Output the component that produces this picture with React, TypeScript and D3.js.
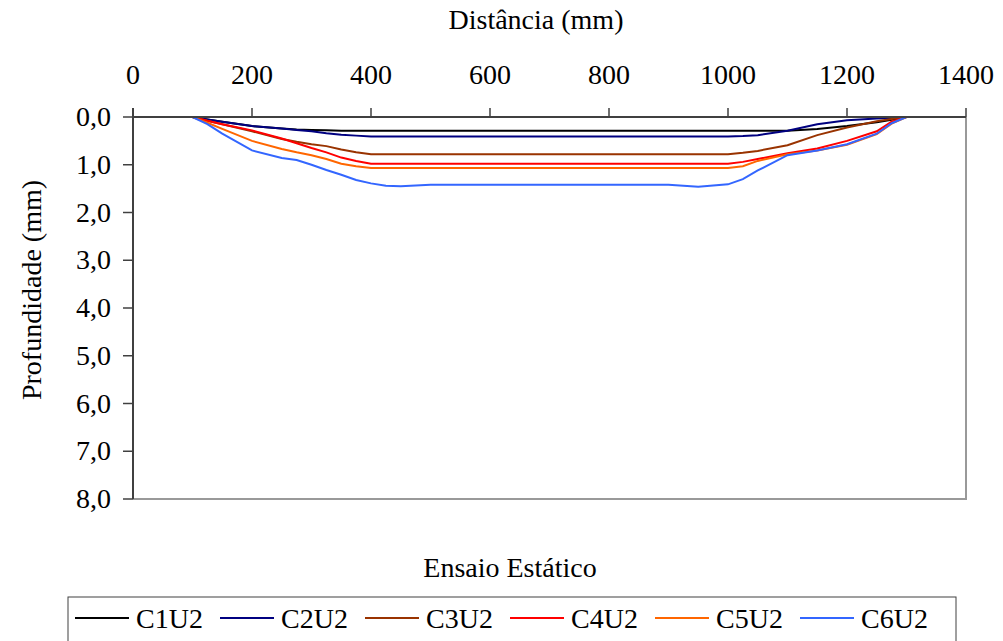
import React, { useRef, useEffect } from "react";
import * as d3 from "d3";

// distancia (mm), shared by every series
const distances = [0, 50, 100, 125, 150, 200, 250, 275, 300, 325, 350, 375, 400, 425, 450, 500, 600, 700, 800, 900, 950, 1000, 1025, 1050, 1100, 1150, 1200, 1250, 1275, 1300, 1350, 1400];

const c1u2 = [0, 0, 0, 0.05, 0.1, 0.19, 0.24, 0.26, 0.27, 0.28, 0.29, 0.29, 0.29, 0.29, 0.29, 0.29, 0.29, 0.29, 0.29, 0.29, 0.29, 0.29, 0.29, 0.29, 0.29, 0.25, 0.19, 0.11, 0.06, 0, 0, 0];
const c2u2 = [0, 0, 0, 0.05, 0.1, 0.19, 0.24, 0.27, 0.3, 0.34, 0.37, 0.39, 0.41, 0.41, 0.41, 0.41, 0.41, 0.41, 0.41, 0.41, 0.41, 0.41, 0.4, 0.38, 0.29, 0.15, 0.07, 0.03, 0.02, 0, 0, 0];
const c3u2 = [0, 0, 0, 0.08, 0.15, 0.3, 0.46, 0.52, 0.57, 0.61, 0.68, 0.74, 0.78, 0.78, 0.78, 0.78, 0.78, 0.78, 0.78, 0.78, 0.78, 0.78, 0.75, 0.71, 0.59, 0.38, 0.22, 0.09, 0.04, 0, 0, 0];
const c4u2 = [0, 0, 0, 0.08, 0.15, 0.28, 0.45, 0.55, 0.65, 0.74, 0.85, 0.92, 0.98, 0.98, 0.98, 0.98, 0.98, 0.98, 0.98, 0.98, 0.98, 0.98, 0.94, 0.88, 0.76, 0.66, 0.5, 0.3, 0.1, 0, 0, 0];
const c5u2 = [0, 0, 0, 0.12, 0.25, 0.5, 0.67, 0.74, 0.8, 0.88, 0.98, 1.03, 1.07, 1.07, 1.07, 1.07, 1.07, 1.07, 1.07, 1.07, 1.07, 1.07, 1.03, 0.92, 0.78, 0.7, 0.58, 0.36, 0.14, 0, 0, 0];
const c6u2 = [0, 0, 0, 0.15, 0.35, 0.7, 0.86, 0.9, 1.0, 1.11, 1.21, 1.32, 1.39, 1.44, 1.45, 1.42, 1.42, 1.42, 1.42, 1.42, 1.46, 1.41, 1.3, 1.12, 0.8, 0.7, 0.57, 0.35, 0.13, 0, 0, 0];

const seriesNames = ["C1U2", "C2U2", "C3U2", "C4U2", "C5U2", "C6U2"];
const seriesValues = [c1u2, c2u2, c3u2, c4u2, c5u2, c6u2];
const seriesColors = ["#000000", "#000080", "#993300", "#ff0000", "#ff6600", "#3366ff"];

const xTicks = [0, 200, 400, 600, 800, 1000, 1200, 1400];
const yTicks = [0, 1, 2, 3, 4, 5, 6, 7, 8];

export default function App() {
    const svgRef = useRef<SVGSVGElement>(null);

    useEffect(() => {
        const width = 1003;
        const height = 641;
        const fs = 28;

        const svg = d3.select(svgRef.current);
        svg.selectAll("*").remove();
        svg.attr("width", width).attr("height", height);

        const x = d3.scaleLinear([0, 1400], [133, 966]);
        const y = d3.scaleLinear([0, 8], [117, 499]);

        // plot area border (right + bottom in gray)
        svg.append("path")
            .attr("d", `M${x(0)},${y(8)}H${x(1400)}V${y(0)}`)
            .attr("fill", "none")
            .attr("stroke", "#999")
            .attr("stroke-width", 2);

        // lines
        const line = d3.line<number>()
            .x((d, i) => x(distances[i]))
            .y(d => y(d));

        svg.append("g")
            .selectAll("path")
            .data(seriesValues)
            .enter()
            .append("path")
            .attr("d", d => line(d))
            .attr("fill", "none")
            .attr("stroke", (d, i) => seriesColors[i])
            .attr("stroke-width", 2);

        // top x axis
        const xAxis = svg.append("g");
        xAxis.append("line")
            .attr("x1", x(0)).attr("x2", x(1400))
            .attr("y1", y(0)).attr("y2", y(0))
            .attr("stroke", "#404040").attr("stroke-width", 2);
        xAxis.selectAll("line.tick")
            .data(xTicks)
            .enter()
            .append("line")
            .attr("class", "tick")
            .attr("x1", d => x(d)).attr("x2", d => x(d))
            .attr("y1", y(0) - 9).attr("y2", y(0))
            .attr("stroke", "#404040").attr("stroke-width", 1.5);
        xAxis.selectAll("text")
            .data(xTicks)
            .enter()
            .append("text")
            .attr("x", d => x(d))
            .attr("y", 84)
            .attr("text-anchor", "middle")
            .attr("font-size", fs)
            .text(d => d);

        // left y axis
        const yAxis = svg.append("g");
        yAxis.append("line")
            .attr("x1", x(0)).attr("x2", x(0))
            .attr("y1", y(0) - 9).attr("y2", y(8))
            .attr("stroke", "#404040").attr("stroke-width", 2);
        yAxis.selectAll("line.tick")
            .data(yTicks)
            .enter()
            .append("line")
            .attr("class", "tick")
            .attr("x1", x(0) - 10).attr("x2", x(0))
            .attr("y1", d => y(d)).attr("y2", d => y(d))
            .attr("stroke", "#404040").attr("stroke-width", 1.5);
        yAxis.selectAll("text")
            .data(yTicks)
            .enter()
            .append("text")
            .attr("x", 111)
            .attr("y", d => y(d) + 9)
            .attr("text-anchor", "end")
            .attr("font-size", fs)
            .text(d => d3.format(".1f")(d).replace(".", ","));

        // titles
        svg.append("text")
            .attr("x", 536).attr("y", 29)
            .attr("text-anchor", "middle")
            .attr("font-size", fs)
            .text("Distância (mm)");
        svg.append("text")
            .attr("transform", `translate(41,290) rotate(-90)`)
            .attr("text-anchor", "middle")
            .attr("font-size", fs)
            .text("Profundidade (mm)");
        svg.append("text")
            .attr("x", 510).attr("y", 577)
            .attr("text-anchor", "middle")
            .attr("font-size", fs)
            .text("Ensaio Estático");

        // legend
        const legend = svg.append("g");
        legend.append("rect")
            .attr("x", 68).attr("y", 597)
            .attr("width", 888).attr("height", 50)
            .attr("fill", "none")
            .attr("stroke", "#404040").attr("stroke-width", 1);
        const items = legend.selectAll("g.item")
            .data(seriesNames)
            .enter()
            .append("g")
            .attr("class", "item")
            .attr("transform", (d, i) => `translate(${75 + i * 145},0)`);
        items.append("line")
            .attr("x1", 0).attr("x2", 54)
            .attr("y1", 618).attr("y2", 618)
            .attr("stroke", (d, i) => seriesColors[i])
            .attr("stroke-width", 2);
        items.append("text")
            .attr("x", 61).attr("y", 628)
            .attr("font-size", fs)
            .text(d => d);
    }, []);

    return (
        <svg
            ref={svgRef}
            style={{
                position: "absolute",
                left: 0,
                top: 0,
                background: "#fff",
                fontFamily: '"Times New Roman", Times, "Liberation Serif", Tinos, "Noto Serif", "DejaVu Serif", serif',
            }}
        />
    );
}
